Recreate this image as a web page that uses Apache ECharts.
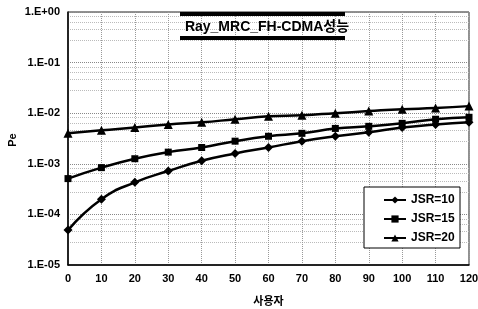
<!DOCTYPE html>
<html>
<head>
<meta charset="utf-8">
<script src="https://cdn.jsdelivr.net/npm/echarts@6/dist/echarts.min.js"></script>
<style>
  html, body { margin: 0; padding: 0; background: #fff; }
  #main { width: 478px; height: 309px; }
</style>
</head>
<body>
<div id="main"></div>
<script>
// 사용자 수 (x축)
var users = [0, 10, 20, 30, 40, 50, 60, 70, 80, 90, 100, 110, 120];

// 각 JSR 별 Pe 값
var jsr10 = [4.9e-5, 2.0e-4, 4.3e-4, 7.2e-4, 1.15e-3, 1.6e-3, 2.1e-3, 2.8e-3, 3.5e-3, 4.2e-3, 5.2e-3, 6.0e-3, 6.6e-3];
var jsr15 = [5.1e-4, 8.4e-4, 1.26e-3, 1.7e-3, 2.1e-3, 2.8e-3, 3.5e-3, 4.0e-3, 5.0e-3, 5.5e-3, 6.3e-3, 7.6e-3, 8.3e-3];
var jsr20 = [4.0e-3, 4.6e-3, 5.2e-3, 6.0e-3, 6.6e-3, 7.6e-3, 8.7e-3, 9.1e-3, 1.0e-2, 1.1e-2, 1.2e-2, 1.26e-2, 1.38e-2];

var seriesNames = ['JSR=10', 'JSR=15', 'JSR=20'];
var seriesSymbols = ['diamond', 'rect', 'triangle'];
var seriesData = [jsr10, jsr15, jsr20];

var chart = echarts.init(document.getElementById('main'));

var fontBase = { fontFamily: 'Liberation Sans, Arial, sans-serif', fontWeight: 'bold', color: '#000' };

function pair(arr) {
    var out = [];
    for (var i = 0; i < users.length; i++) {
        out.push([users[i], arr[i]]);
    }
    return out;
}

var series = [];
for (var k = 0; k < seriesNames.length; k++) {
    series.push({
        name: seriesNames[k],
        type: 'line',
        data: pair(seriesData[k]),
        symbol: seriesSymbols[k],
        symbolSize: seriesSymbols[k] === 'rect' ? 7 : 9,
        smooth: true,
        lineStyle: { color: '#000', width: 2.5 },
        itemStyle: { color: '#000' }
    });
}

var option = {
    animation: false,
    backgroundColor: '#fff',
    grid: {
        left: 68, right: 9, top: 12, bottom: 44,
        outerBoundsMode: 'none',
        containLabel: false,
        show: true, borderColor: '#222', borderWidth: 1
    },
    title: {
        text: 'Ray_MRC_FH-CDMA성능',
        left: 262, top: 15,
        textAlign: 'center',
        textStyle: {
            fontFamily: 'Liberation Sans, "Noto Sans CJK KR", sans-serif',
            fontWeight: 'bold', fontSize: 14, color: '#000'
        }
    },
    graphic: [
        { type: 'rect', shape: { x: 180, y: 12, width: 165, height: 4 }, style: { fill: '#000' }, z: 1 },
        { type: 'rect', shape: { x: 180, y: 36, width: 165, height: 4 }, style: { fill: '#000' }, z: 1 },
        { type: 'rect', shape: { x: 364, y: 187, width: 96, height: 61 }, style: { fill: '#fff', stroke: '#000', lineWidth: 1 }, z: 50 },
        // y축 이름
        {
            type: 'text', x: 13, y: 140, rotation: Math.PI / 2,
            style: {
                text: 'Pe', fill: '#000', font: 'bold 11px Liberation Sans, Arial, sans-serif',
                align: 'center', verticalAlign: 'middle'
            }
        }
    ],
    legend: {
        data: seriesNames,
        orient: 'vertical',
        left: 378, top: 189,
        itemGap: 7,
        itemWidth: 22,
        itemHeight: 9,
        z: 60,
        textStyle: Object.assign({ fontSize: 12 }, fontBase)
    },
    xAxis: {
        type: 'value',
        min: 0, max: 120, interval: 10,
        name: '사용자',
        nameLocation: 'middle',
        nameGap: 30,
        nameTextStyle: { fontFamily: '"Noto Sans CJK KR", sans-serif', fontWeight: 'bold', fontSize: 11, color: '#000' },
        axisLine: { show: true, lineStyle: { color: '#000', width: 1.5 } },
        axisTick: { show: false },
        axisLabel: Object.assign({ fontSize: 11, margin: 8 }, fontBase),
        splitLine: { show: true, lineStyle: { color: '#999', type: 'dotted', width: 1 } }
    },
    yAxis: {
        type: 'log',
        logBase: 10,
        min: 1e-5, max: 1,
        axisLine: { show: true, lineStyle: { color: '#000', width: 1.5 } },
        axisTick: { show: false },
        axisLabel: Object.assign({
            fontSize: 11, margin: 8,
            formatter: function (v) {
                var e = Math.round(Math.log10(v));
                var s = e >= 0 ? '+' : '-';
                var a = Math.abs(e);
                return '1.E' + s + (a < 10 ? '0' + a : a);
            }
        }, fontBase),
        splitLine: { show: true, lineStyle: { color: '#888', type: 'dotted', width: 1 } },
        minorTick: { show: false, splitNumber: 5 },
        minorSplitLine: { show: true, lineStyle: { color: '#bbb', type: 'dotted', width: 1 } }
    },
    series: series
};

chart.setOption(option);
</script>
</body>
</html>
